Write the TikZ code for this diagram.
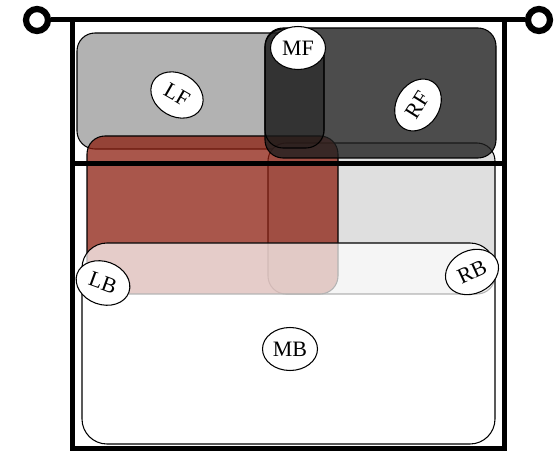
\documentclass[tikz,border=0pt]{standalone}
\usepackage{fontspec}
\setmainfont{Liberation Serif}
\usepackage{tikz}
\usetikzlibrary{shapes.geometric}

\definecolor{bedred}{RGB}{140,30,15}

\begin{document}
\begin{tikzpicture}[x=0.2mm, y=-0.2mm,
    zone/.style={draw=black, semithick, rounded corners=3.6mm},
    tag/.style={ellipse, draw=black, fill=white, semithick, inner sep=0.5pt,
      minimum width=11mm, minimum height=8.6mm, font=\fontsize{12.5}{14}\selectfont},
    bar/.style={line width=1mm},
    hook/.style={circle, draw=black, line width=1.25mm, fill=white, inner sep=0pt, minimum size=4.4mm}]
    \useasboundingbox (0,0) rectangle (556,454);

    % zones, back to front
    \draw[zone, fill=gray!60] (77,33) rectangle (324,149);
    \draw[zone, fill=gray!25] (268,143) rectangle (495,294);
    \draw[zone, fill=bedred, fill opacity=0.75] (87,136) rectangle (338,294);
    \draw[zone, fill=black!88, fill opacity=0.8] (265,28) rectangle (496,158);
    \draw[zone, fill=black, fill opacity=0.15] (265,29) rectangle (324,148);
    \draw[zone, rounded corners=5mm, fill=white, fill opacity=0.7] (82,243) rectangle (495,444);

    % frame
    \node[hook] (hookl) at (37,20) {};
    \node[hook] (hookr) at (539,20) {};
    \draw[bar] (hookl) -- (hookr);
    \draw[bar] (72.5,20) -- (72.5,449) -- (504,449) -- (504,20);
    \draw[bar] (72.5,164) -- (504,164);

    \node[tag, rotate=-30] (lf) at (177,95) {LF};
    \node[tag] (mf) at (298,48) {MF};
    \node[tag, rotate=58] (rf) at (418,105) {RF};
    \node[tag, rotate=-20] (lb) at (103,283) {LB};
    \node[tag, rotate=25] (rb) at (472,272) {RB};
    \node[tag] (mb) at (290,349) {MB};
\end{tikzpicture}
\end{document}
